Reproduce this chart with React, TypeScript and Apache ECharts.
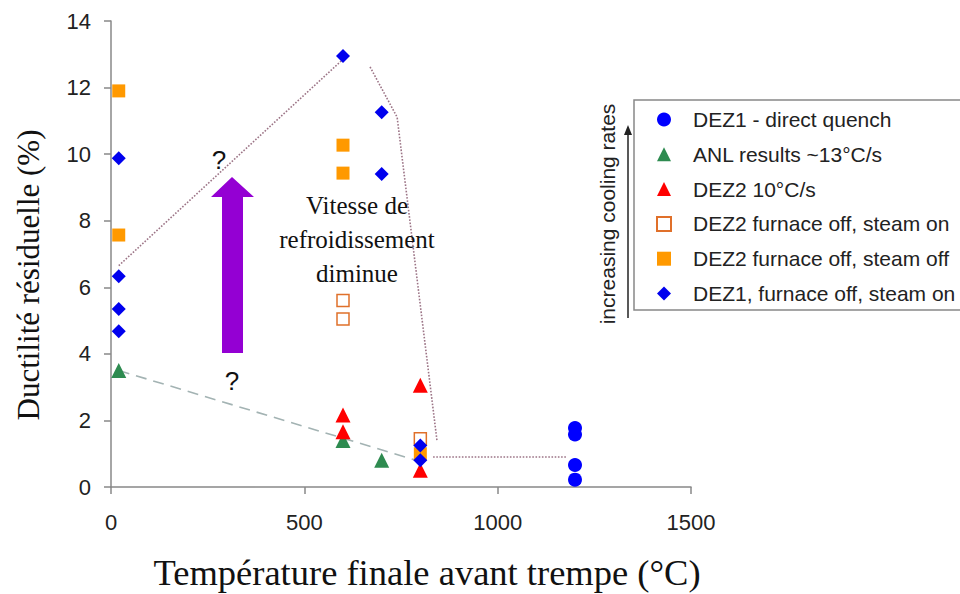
import React, { useEffect, useRef } from "react";
import * as echarts from "echarts";

const xTicks = [0, 500, 1000, 1500];
const yTicks = [0, 2, 4, 6, 8, 10, 12, 14];

const seriesNames = [
  "DEZ1 - direct quench",
  "ANL results ~13°C/s",
  "DEZ2 10°C/s",
  "DEZ2 furnace off, steam on",
  "DEZ2 furnace off, steam off",
  "DEZ1, furnace off, steam on",
];

const directQuench = [[1200, 1.77], [1200, 1.58], [1200, 0.66], [1200, 0.22]];
const anlResults = [[20, 3.5], [600, 1.4], [700, 0.8]];
const dez2Rate10 = [[600, 2.16], [600, 1.66], [800, 3.06], [800, 0.5]];
const dez2SteamOn = [[600, 5.6], [600, 5.05], [800, 1.45]];
const dez2SteamOff = [[20, 11.9], [20, 7.57], [600, 10.27], [600, 9.43], [800, 1.0]];
const dez1SteamOn = [
  [20, 9.88], [20, 6.33], [20, 5.35], [20, 4.68],
  [600, 12.95], [700, 11.26], [700, 9.4], [800, 1.25], [800, 0.8],
];

const upperGuide = [[20, 6.65], [600, 12.85]];
const rightGuide = [[670, 12.62], [740, 11.11], [843, 1.4]];
const floorGuide = [[833, 0.9], [1180, 0.9]];
const lowerGuide = [[20, 3.5], [790, 0.8]];

const annotationLines = ["Vitesse de", "refroidissement", "diminue"];

const SANS = "Liberation Sans, Arial, sans-serif";
const SERIF = "Liberation Serif, Times New Roman, serif";

export default function App() {
  const ref = useRef<HTMLDivElement>(null);

  useEffect(() => {
    if (!ref.current) return;
    const chart = echarts.init(ref.current, undefined, { renderer: "svg" });

    const scatter = (name: string, data: number[][], symbol: string, size: number, itemStyle: any) => ({
      name,
      type: "scatter",
      data,
      symbol,
      symbolSize: size,
      itemStyle: { opacity: 1, ...itemStyle },
    });

    const guide = (data: number[][], color: string, type: any) => ({
      type: "line",
      data,
      symbol: "none",
      silent: true,
      z: 1,
      lineStyle: { color, width: 1.6, type },
    });

    chart.setOption({
      animation: false,
      backgroundColor: "#ffffff",
      grid: {
        left: 111,
        top: 21,
        width: 580,
        height: 466,
        containLabel: false,
        outerBoundsMode: "none",
      },
      xAxis: {
        type: "value",
        min: 0,
        max: 1500,
        interval: 500,
        name: "Température finale avant trempe (°C)",
        nameLocation: "middle",
        nameGap: 67,
        nameTextStyle: { fontFamily: SERIF, fontSize: 36.5, color: "#111", padding: [0, 0, 0, 52] },
        axisLine: { show: true, lineStyle: { color: "#888", width: 1.5 } },
        axisTick: { show: true, length: 7, lineStyle: { color: "#888", width: 1.5 } },
        axisLabel: {
          margin: 24,
          fontFamily: SANS,
          fontSize: 22,
          color: "#222",
          formatter: (v: number) => (xTicks.includes(v) ? String(v) : ""),
        },
        splitLine: { show: false },
      },
      yAxis: {
        type: "value",
        min: 0,
        max: 14,
        interval: 2,
        name: "Ductilité résiduelle (%)",
        nameLocation: "middle",
        nameGap: 67,
        nameTextStyle: { fontFamily: SERIF, fontSize: 31, color: "#111", padding: [0, 42, 0, 0] },
        axisLine: { show: true, lineStyle: { color: "#888", width: 1.5 } },
        axisTick: { show: true, length: 7, lineStyle: { color: "#888", width: 1.5 } },
        axisLabel: {
          margin: 20,
          fontFamily: SANS,
          fontSize: 22,
          color: "#222",
          formatter: (v: number) => (yTicks.includes(v) ? String(v) : ""),
        },
        splitLine: { show: false },
      },
      legend: {
        data: seriesNames,
        orient: "vertical",
        left: 634,
        top: 100,
        itemWidth: 14,
        itemHeight: 14,
        itemGap: 13.8,
        padding: [9, 8, 6, 22],
        borderColor: "#888",
        borderWidth: 1.5,
        textStyle: {
          fontFamily: SANS,
          fontSize: 21,
          color: "#222",
          lineHeight: 20,
          padding: [0, 0, 0, 17],
        },
      },
      series: [
        guide(upperGuide, "#9c7486", "dotted"),
        guide(rightGuide, "#9c7486", "dotted"),
        guide(floorGuide, "#9c7486", "dotted"),
        guide(lowerGuide, "#a3b3b3", [11, 7]),
        scatter(seriesNames[0], directQuench, "circle", 14, { color: "#0000ff" }),
        scatter(seriesNames[1], anlResults, "triangle", 15, { color: "#2e8b50" }),
        scatter(seriesNames[2], dez2Rate10, "triangle", 15, { color: "#ff0000" }),
        scatter(seriesNames[3], dez2SteamOn, "rect", 12, {
          color: "#ffffff",
          borderColor: "#e0702a",
          borderWidth: 1.5,
        }),
        scatter(seriesNames[4], dez2SteamOff, "rect", 13, { color: "#ff9900" }),
        scatter(seriesNames[5], dez1SteamOn, "diamond", 14, { color: "#0000ee" }),
      ],
      graphic: [
        {
          type: "polygon",
          shape: {
            points: [
              [222, 353], [243, 353], [243, 197], [254, 197],
              [232, 177], [211, 197], [222, 197],
            ],
          },
          style: { fill: "#9400d3" },
          z: 10,
        },
        {
          type: "text",
          x: 219,
          y: 160,
          style: { text: "?", font: `26px ${SANS}`, fill: "#111", align: "center", verticalAlign: "middle" },
          z: 10,
        },
        {
          type: "text",
          x: 232,
          y: 381,
          style: { text: "?", font: `26px ${SANS}`, fill: "#111", align: "center", verticalAlign: "middle" },
          z: 10,
        },
        {
          type: "text",
          x: 357,
          y: 188,
          style: {
            text: annotationLines.join("\n"),
            font: `25px ${SERIF}`,
            lineHeight: 34,
            fill: "#111",
            align: "center",
            verticalAlign: "top",
          },
          z: 10,
        },
        {
          type: "text",
          x: 607,
          y: 214,
          rotation: Math.PI / 2,
          style: {
            text: "increasing cooling rates",
            font: `21px ${SANS}`,
            fill: "#222",
            align: "center",
            verticalAlign: "middle",
          },
          z: 10,
        },
        {
          type: "line",
          shape: { x1: 628, y1: 318, x2: 628, y2: 133 },
          style: { stroke: "#222", lineWidth: 1.5 },
          z: 10,
        },
        {
          type: "polygon",
          shape: { points: [[624, 135], [632, 135], [628, 125]] },
          style: { fill: "#222" },
          z: 10,
        },
      ],
    });

    return () => chart.dispose();
  }, []);

  return (
    <div
      ref={ref}
      style={{ position: "fixed", left: 0, top: 0, width: 960, height: 594, background: "#fff" }}
    />
  );
}
